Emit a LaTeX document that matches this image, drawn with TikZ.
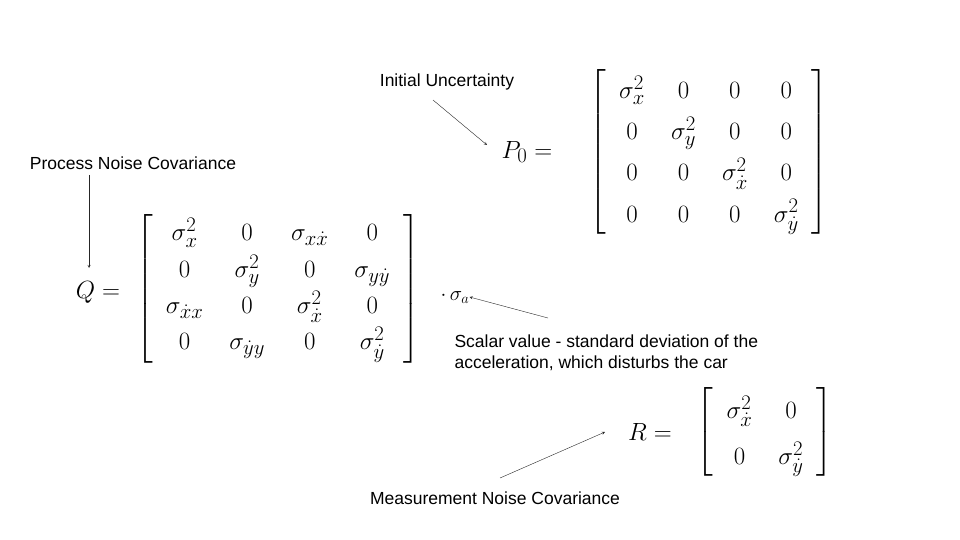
\documentclass[tikz,border=0pt]{standalone}
\usepackage{amsmath}
\usepackage{fontspec}
\setmainfont{Liberation Sans}
\usetikzlibrary{positioning}
\tikzset{
  note/.style={font=\fontsize{17.5}{21}\selectfont, align=left},
  mat/.style={font=\fontsize{29}{33}\selectfont, inner sep=0pt},
  pointer/.style={->, >=stealth, thin, gray!30!black}
}
\newcommand{\bigmat}[3]{$\renewcommand{\arraystretch}{#1}\setlength{\arraycolsep}{13pt}\left[\begin{array}{#2}#3\end{array}\right]$}
\begin{document}
\begin{tikzpicture}[x=1pt, y=-1pt]
  \useasboundingbox (0,0) rectangle (960,540);

  % Initial uncertainty
  \node[note] (initlbl) at (447,82) {Initial Uncertainty};
  \node[mat] (Plhs) at (527,152) {$P_0 =$};
  \node[mat] (Pmat) at (709,152) {\bigmat{1.25}{cccc}{
    \sigma_x^2 & 0 & 0 & 0\\
    0 & \sigma_y^2 & 0 & 0\\
    0 & 0 & \sigma_{\dot x}^2 & 0\\
    0 & 0 & 0 & \sigma_{\dot y}^2}};
  \coordinate (Ptip) at (487,145);
  \draw[pointer] (433,100) -- (Ptip);

  % Process noise
  \node[note] (proclbl) at (133,163) {Process Noise Covariance};
  \node[mat] (Qlhs) at (98,292) {$Q =$};
  \node[mat] (Qmat) at (278,289) {\bigmat{1.1}{cccc}{
    \sigma_x^2 & 0 & \sigma_{x\dot x} & 0\\
    0 & \sigma_y^2 & 0 & \sigma_{y\dot y}\\
    \sigma_{\dot x x} & 0 & \sigma_{\dot x}^2 & 0\\
    0 & \sigma_{\dot y y} & 0 & \sigma_{\dot y}^2}};
  \node[mat, font=\fontsize{22}{26}\selectfont] (sig) at (455,297) {$\cdot\,\sigma_a$};
  \coordinate (Qtip) at (89,268);
  \draw[pointer] (89,175) -- (Qtip);

  % Scalar
  \node[note, anchor=north west] (scallbl) at (451,331) {Scalar value - standard deviation of the\\acceleration, which disturbs the car};
  \draw[pointer] (548,318) -- (sig.east);

  % Measurement noise
  \node[mat] (Rlhs) at (650,432) {$R =$};
  \node[mat] (Rmat) at (765,432) {\bigmat{1.4}{cc}{
    \sigma_{\dot x}^2 & 0\\
    0 & \sigma_{\dot y}^2}};
  \node[note] (measlbl) at (495,498) {Measurement Noise Covariance};
  \coordinate (Rtip) at (605,432);
  \draw[pointer] (500,478) -- (Rtip);
\end{tikzpicture}
\end{document}
